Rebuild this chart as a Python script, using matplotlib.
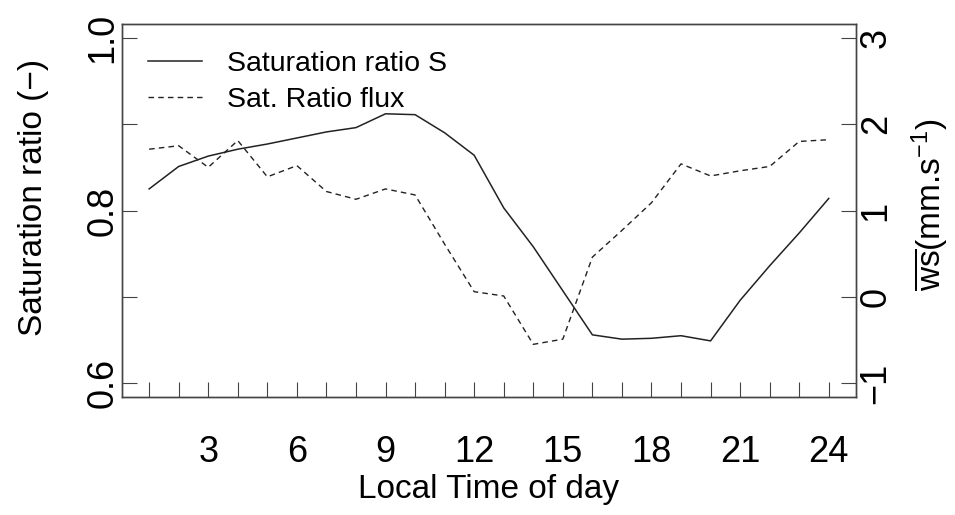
import matplotlib
matplotlib.use("Agg")
import matplotlib.pyplot as plt

# Diurnal cycle: saturation ratio (left axis) and its flux (right axis)
hours = list(range(1, 25))
sat_ratio = [0.825, 0.851, 0.863, 0.871, 0.877, 0.884, 0.891, 0.896,
             0.912, 0.911, 0.890, 0.864, 0.803, 0.758, 0.707, 0.656,
             0.651, 0.652, 0.655, 0.649, 0.696, 0.736, 0.774, 0.814]
sat_flux = [1.71, 1.75, 1.50, 1.81, 1.39, 1.52, 1.22, 1.13,
            1.25, 1.18, 0.61, 0.06, 0.01, -0.55, -0.49, 0.46,
            0.77, 1.09, 1.54, 1.40, 1.46, 1.51, 1.80, 1.82]

x_tick_labels = ["" if h % 3 else str(h) for h in hours]
left_ticks = [0.6, 0.7, 0.8, 0.9, 1.0]
left_tick_labels = ["0.6", "", "0.8", "", "1.0"]
right_ticks = [-1, 0, 1, 2, 3]
right_tick_labels = ["\u22121", "0", "1", "2", "3"]

plt.rcParams["font.family"] = ["Liberation Sans", "DejaVu Sans"]
plt.rcParams["mathtext.fontset"] = "custom"
plt.rcParams["mathtext.rm"] = "Liberation Sans"
plt.rcParams["mathtext.it"] = "Liberation Sans:italic"
plt.rcParams["mathtext.sf"] = "Liberation Sans"

ink = "#222222"
frame = "#444444"

fig = plt.figure(figsize=(9.55, 5.15), dpi=100)
ax = fig.add_axes([0.1277, 0.2291, 0.8963 - 0.1277, 0.9534 - 0.2291])
ax2 = ax.twinx()

l1, = ax.plot(hours, sat_ratio, color=ink, lw=1.1, label="Saturation ratio S")
l2, = ax2.plot(hours, sat_flux, color=ink, lw=1.0, dashes=(4, 3),
               label="Sat. Ratio flux")

# R-style 4% padding around data ranges
ax.set_xlim(1 - 0.04 * 23, 24 + 0.04 * 23)
ax.set_ylim(0.6 - 0.016, 1.0 + 0.016)
ax2.set_ylim(-1 - 0.16, 3 + 0.16)

ax.set_xticks(hours)
ax.set_xticklabels(x_tick_labels)
ax.set_yticks(left_ticks)
ax.set_yticklabels(left_tick_labels)
ax2.set_yticks(right_ticks)
ax2.set_yticklabels(right_tick_labels)

ax.tick_params(axis="x", direction="in", length=11, width=0.8, color=frame,
               labelsize=26, pad=27)
ax.tick_params(axis="y", direction="in", length=11, width=0.8, color=frame,
               labelsize=26, pad=1)
ax2.tick_params(axis="y", direction="in", length=11, width=0.8, color=frame,
                labelsize=26, pad=2)

for lab in ax.get_yticklabels():
    lab.set_rotation(90)
    lab.set_va("center")
for lab in ax2.get_yticklabels():
    lab.set_rotation(90)
    lab.set_va("center")

for a in (ax, ax2):
    for s in a.spines.values():
        s.set_color(frame)
        s.set_linewidth(1.0)

ax.set_xlabel("Local Time of day", fontsize=24, labelpad=3)
ax.set_ylabel("Saturation ratio (\u2212)", fontsize=24)
ax.yaxis.set_label_coords(-0.0995, 0.535)
ax2.set_ylabel(r"$\overline{\mathrm{ws}}$(mm.s$^{-1}$)", fontsize=24)
ax2.yaxis.set_label_coords(1.073, 0.515)

ax.legend(handles=[l1, l2], loc="upper left", bbox_to_anchor=(0.035, 0.928),
          frameon=False, fontsize=20.5, handlelength=1.9, handletextpad=0.9,
          labelspacing=0.35, borderpad=0, borderaxespad=0)

fig.savefig("out.png", dpi=100)
